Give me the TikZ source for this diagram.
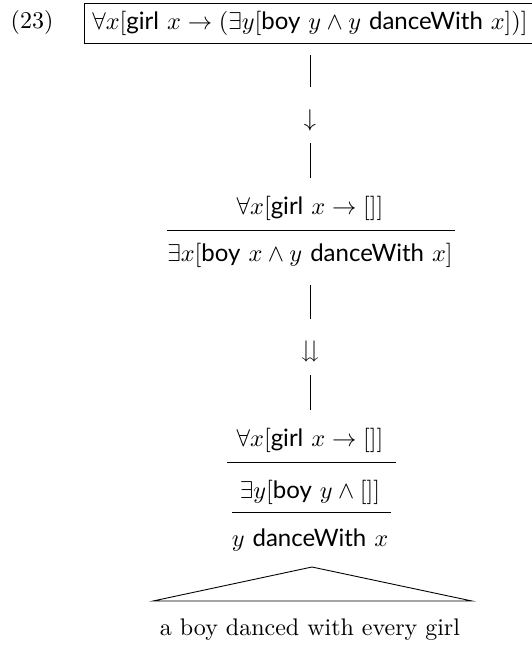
\documentclass[tikz,border=0pt]{standalone}
\usepackage{amsmath,amssymb}
\usepackage{fontspec}
\newfontfamily\gsans{Lato}
\newcommand{\sfw}[1]{\text{\gsans #1}}
\begin{document}
\begin{tikzpicture}[x=0.45pt,y=-0.45pt,font=\fontsize{10.8pt}{13pt}\selectfont]
		\tikzset{recstyle/.style={rectangle, draw, minimum width=198pt, minimum height=18pt}}
		\tikzset{formstyle/.style={inner sep=0pt}}
		\useasboundingbox (0,0) rectangle (532,647);
		
		\node[formstyle] (nodenum) at (32,23) {(23)};
		\node[recstyle] (nodetop) at (310,23) {$\forall x[\sfw{girl}\ x \to (\exists y[\sfw{boy}\ y \wedge y\ \sfw{danceWith}\ x])]$};
		\node[formstyle] (nodedown) at (310,120) {$\downarrow$};
		\node[formstyle] (nodeforall) at (310,208) {$\forall x[\sfw{girl}\ x \to []]$};
		\node[formstyle] (nodeexists) at (310,255) {$\exists x[\sfw{boy}\ x \wedge y\ \sfw{danceWith}\ x]$};
		\node[formstyle] (nodeddown) at (310,352) {$\downdownarrows$};
		\node[formstyle] (nodeforallb) at (310,440) {$\forall x[\sfw{girl}\ x \to []]$};
		\node[formstyle] (nodeexistsb) at (310,492) {$\exists y[\sfw{boy}\ y \wedge []]$};
		\node[formstyle] (nodedance) at (310,540) {$y\ \sfw{danceWith}\ x$};
		\node[formstyle] (nodesent) at (310,630) {a boy danced with every girl};
		
		% lines between the stages
		\coordinate (la) at (310,55);
		\coordinate (lb) at (310,87);
		\coordinate (lc) at (310,143);
		\coordinate (ld) at (310,178);
		\coordinate (le) at (310,285);
		\coordinate (lf) at (310,319);
		\coordinate (lg) at (310,375);
		\coordinate (lh) at (310,410);
		\draw (la) -- (lb);
		\draw (lc) -- (ld);
		\draw (le) -- (lf);
		\draw (lg) -- (lh);
		
		% rules
		\coordinate (ra) at (167,230);
		\coordinate (rb) at (455,230);
		\coordinate (rc) at (227,462);
		\coordinate (rd) at (396,462);
		\coordinate (re) at (232,512);
		\coordinate (rf) at (391,512);
		\draw (ra) -- (rb);
		\draw (rc) -- (rd);
		\draw (re) -- (rf);
		
		% triangle
		\coordinate (tritop) at (312,567);
		\coordinate (trileft) at (153,601);
		\coordinate (triright) at (472,601);
		\draw (trileft) -- (tritop) -- (triright) -- cycle;
		
\end{tikzpicture}
\end{document}
